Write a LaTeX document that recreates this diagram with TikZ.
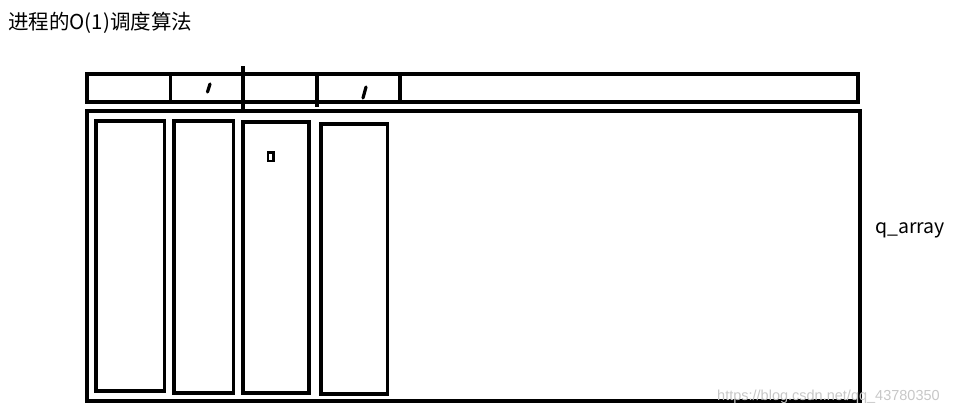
\documentclass[tikz,border=0pt]{standalone}
\usepackage{fontspec}
\newfontfamily\cjk{Noto Sans CJK SC}
\newfontfamily\wm{Liberation Sans}
\begin{document}
\begin{tikzpicture}[x=1pt,y=-1pt,
  thick line/.style={line width=3.2pt, line cap=rect},
  cell/.style={thick line, draw=black},
  label/.style={font=\cjk\fontsize{20.5}{22}\selectfont, inner sep=0pt, anchor=west}]
\useasboundingbox (0,0) rectangle (969,417);
% title
\node[label] (title) at (8,23) {进程的O(1)调度算法};
% top bar
\draw[cell] (87,74) rectangle (858,102);
\coordinate (d1a) at (170.5,74); \coordinate (d1b) at (170.5,102);
\coordinate (d2a) at (243,68); \coordinate (d2b) at (243,108);
\coordinate (d3a) at (317,74); \coordinate (d3b) at (317,105);
\coordinate (d4a) at (400,74); \coordinate (d4b) at (400,102);
\draw[thick line] (d1a) -- (d1b);
\draw[thick line] (d2a) -- (d2b);
\draw[thick line] (d3a) -- (d3b);
\draw[thick line] (d4a) -- (d4b);
\coordinate (s1a) at (207.5,92); \coordinate (s1b) at (210,84);
\coordinate (s2a) at (363,98); \coordinate (s2b) at (366,87);
\draw[line width=3.2pt, line cap=round] (s1a) -- (s1b);
\draw[line width=3.2pt, line cap=round] (s2a) -- (s2b);
% big box
\draw[cell] (87,111) rectangle (860,401);
% inner boxes
\draw[cell] (96,121) rectangle (164.5,391);
\draw[cell] (174,121) rectangle (233.5,393);
\draw[cell] (243,122) rectangle (309,393);
\draw[cell] (321,124) rectangle (387.5,394);
\draw[line width=2.2pt] (268,152.5) rectangle (273.5,161);
% q_array label
\node[label, font=\cjk\fontsize{19.5}{21}\selectfont] (qa) at (875,230) {q\_array};
% watermark
\node[font=\wm\fontsize{14.5}{16}\selectfont, text=black!22, inner sep=0pt, anchor=west] (wmk) at (717,397) {https://blog.csdn.net/qq\_43780350};
\end{tikzpicture}
\end{document}
